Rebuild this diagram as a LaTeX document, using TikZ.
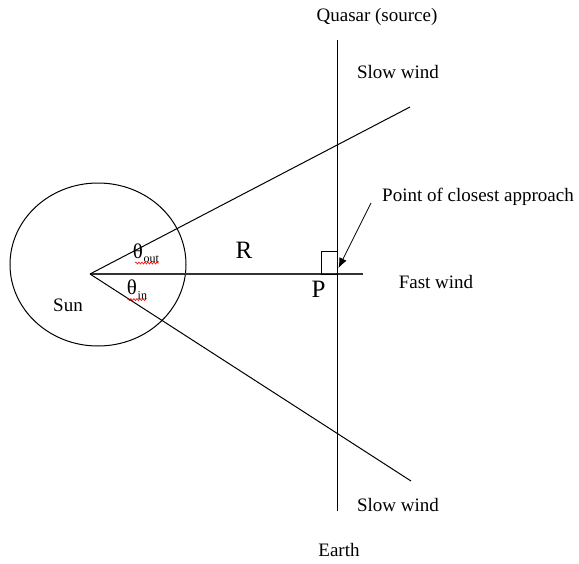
\documentclass[tikz,border=0pt]{standalone}
\usepackage{fontspec}
\setmainfont{Liberation Serif}
\usetikzlibrary{arrows.meta,decorations.pathmorphing}
\begin{document}
\begin{tikzpicture}[x=1pt,y=-1pt,
  lbl/.style={inner sep=0pt,font=\fontsize{19}{19}\selectfont},
  big/.style={inner sep=0pt,font=\fontsize{25}{25}\selectfont},
  theta/.style={inner sep=0pt,font=\fontsize{21}{21}\selectfont},
  sub/.style={inner sep=0pt,font=\fontsize{12}{12}\selectfont,anchor=west},
  ln/.style={line width=1pt,black},
  squig/.style={red,line width=0.6pt,decorate,decoration={snake,amplitude=1pt,segment length=3pt}}]
\useasboundingbox (0,0) rectangle (579,563);
% geometry
\coordinate (O) at (90,274);
\coordinate (Hend) at (363,274);
\coordinate (Vtop) at (337,40);
\coordinate (Vbot) at (337,511);
\coordinate (Uend) at (410,107);
\coordinate (Lend) at (411,481);
\coordinate (Pt) at (337,274);
\coordinate (Sq) at (321.7,251);
\coordinate (Astart) at (371,203);
\coordinate (Atip) at (338.5,268);
\draw[ln] (98,264.5) ellipse [x radius=88, y radius=81.5];
\draw[line width=1.4pt,black!80] (O) -- (Hend);
\draw[ln] (Vtop) -- (Vbot);
\draw[ln] (O) -- (Uend);
\draw[ln] (O) -- (Lend);
\draw[ln] (Sq) rectangle (Pt);
\draw[line width=0.8pt,-{Latex[length=10pt,width=8pt]}] (Astart) -- (Atip);
% labels
\node[lbl] (quasar) at (377,17) {Quasar (source)};
\node[lbl] (slowtop) at (398,72) {Slow wind};
\node[lbl,anchor=west] (closest) at (382,197) {Point of closest approach};
\node[lbl] (fast) at (436,282) {Fast wind};
\node[big] (R) at (244,250.5) {R};
\node[big] (P) at (318.5,289) {P};
\node[lbl] (sun) at (68,305) {Sun};
\node[theta] (thout) at (138,251.5) {θ};
\node[sub] (subout) at (143.5,259.5) {out};
\node[theta] (thin) at (132,287.5) {θ};
\node[sub] (subin) at (137.5,296) {in};
\draw[squig] (135,263) -- (159,263);
\draw[squig] (127,299.5) -- (146,299.5);
\node[lbl] (slowbot) at (398,505) {Slow wind};
\node[lbl] (earth) at (339,550) {Earth};
\end{tikzpicture}
\end{document}
